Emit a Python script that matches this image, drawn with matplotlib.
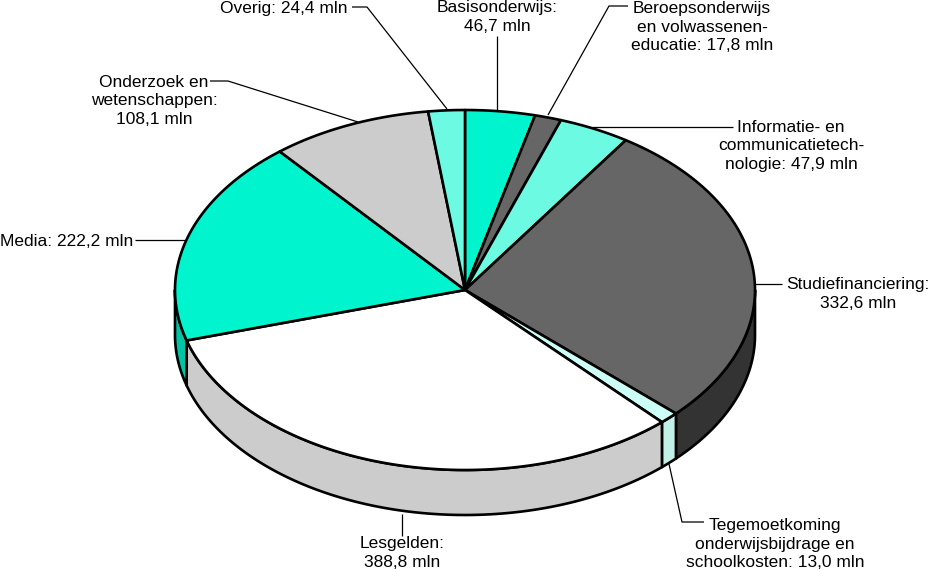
import numpy as np
import matplotlib
matplotlib.use("Agg")
import matplotlib.pyplot as plt
from matplotlib.patches import Polygon

plt.rcParams['font.family'] = ['Liberation Sans', 'DejaVu Sans']

categories = ["Basisonderwijs", "Beroepsonderwijs", "Informatie", "Studiefinanciering",
              "Tegemoetkoming", "Lesgelden", "Media", "Onderzoek", "Overig"]
values = [46.7, 17.8, 47.9, 332.6, 13.0, 388.8, 222.2, 108.1, 24.4]
top_colors = ["#00F5CE", "#666666", "#6CFAE2", "#666666", "#CCFFF6", "#FFFFFF", "#00F5CE", "#CCCCCC", "#6CFAE2"]
side_colors = ["#00C4A4", "#333333", "#56C8B4", "#333333", "#C0F0E8", "#CCCCCC", "#00C4A4", "#A3A3A3", "#56C8B4"]
labels = [
    ("Basisonderwijs:\n46,7 mln", 497, 17, "center"),
    ("Beroepsonderwijs\nen volwassenen-\neducatie: 17,8 mln", 702, 27, "center"),
    ("Informatie- en\ncommunicatietech-\nnologie: 47,9 mln", 791, 146, "center"),
    ("Studiefinanciering:\n332,6 mln", 858, 294, "center"),
    ("Tegemoetkoming\nonderwijsbijdrage en\nschoolkosten: 13,0 mln", 775, 544, "center"),
    ("Lesgelden:\n388,8 mln", 402, 553, "center"),
    ("Media: 222,2 mln", 67, 241, "center"),
    ("Onderzoek en\nwetenschappen:\n108,1 mln", 154, 101, "center"),
    ("Overig: 24,4 mln", 284, 8, "center"),
]
leaders = [
    [(497, 36), (497, 110)],
    [(628, 6), (609, 6), (548, 115)],
    [(733, 127), (592, 127)],
    [(782, 284), (755, 284)],
    [(704, 522), (682, 522), (669, 464)],
    [(402, 536), (402, 514)],
    [(135, 240), (186, 240)],
    [(210, 81), (228, 81), (358, 122)],
    [(352, 7), (367, 7), (447, 109)],
]

CX, CY, RX, RY, DEPTH = 465, 290, 290, 180, 45
LW = 1.9

fig = plt.figure(figsize=(9.31, 5.70), dpi=100)
ax = fig.add_axes([0, 0, 1, 1])
ax.set_xlim(0, 931)
ax.set_ylim(570, 0)
ax.axis("off")


def rim(a, b, dy=0.0):
    t = np.radians(np.linspace(a, b, max(int(abs(b - a)) * 2, 2)))
    return np.column_stack([CX + RX * np.sin(t), CY - RY * np.cos(t) + dy])


edges = np.concatenate([[0], np.cumsum(values)]) / np.sum(values) * 360

# side walls, only the front half of the rim (90..270 degrees) shows
for a, b, c in zip(edges[:-1], edges[1:], side_colors):
    lo, hi = max(a, 90), min(b, 270)
    if lo >= hi:
        continue
    pts = np.vstack([rim(lo, hi), rim(lo, hi, DEPTH)[::-1]])
    ax.add_patch(Polygon(pts, closed=True, fc=c, ec="black", lw=LW, joinstyle="round", zorder=2))

# top slices
for a, b, c in zip(edges[:-1], edges[1:], top_colors):
    pts = np.vstack([[(CX, CY)], rim(a, b)])
    ax.add_patch(Polygon(pts, closed=True, fc=c, ec="black", lw=LW, joinstyle="round", zorder=3))

for path in leaders:
    xs, ys = zip(*path)
    ax.plot(xs, ys, color="black", lw=0.9, zorder=1, solid_capstyle="butt")

for txt, x, y, ha in labels:
    ax.text(x, y, txt, ha=ha, va="center", fontsize=12.55, color="black", linespacing=1.27, zorder=5)

fig.savefig("out.png", dpi=100)
